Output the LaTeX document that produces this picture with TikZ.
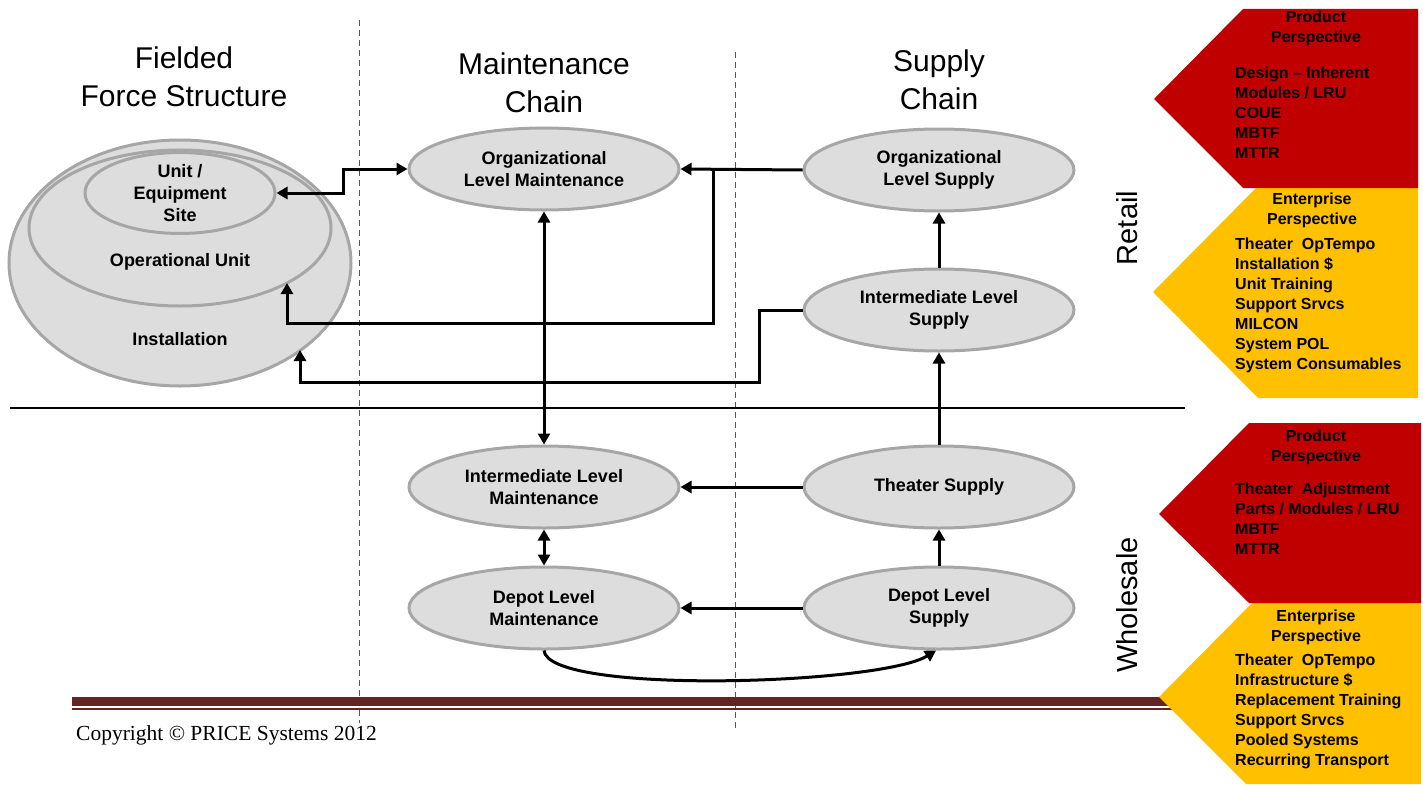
\documentclass[tikz,border=0pt]{standalone}
\usepackage{fontspec}
\setmainfont{Liberation Sans}
\newfontfamily\serifcr{Liberation Serif}
\usetikzlibrary{arrows.meta,shapes.geometric,calc}
\definecolor{ellfill}{HTML}{DDDDDD}
\definecolor{elldraw}{HTML}{A6A6A6}
\definecolor{prodred}{HTML}{C00000}
\definecolor{entyel}{HTML}{FFC000}
\definecolor{bandcol}{HTML}{632523}
\definecolor{dashcol}{HTML}{555555}
\begin{document}
\begin{tikzpicture}[x=1pt,y=-1pt,
  ell/.style={ellipse, draw=elldraw, fill=ellfill, line width=3pt,
    minimum width=270pt, minimum height=82pt, inner sep=0pt,
    font=\fontsize{18}{22}\selectfont\bfseries, align=center},
  lbl/.style={font=\fontsize{18}{22}\selectfont\bfseries, inner sep=0pt},
  title/.style={font=\fontsize{30}{38}\selectfont, align=center, inner sep=0pt},
  side/.style={font=\fontsize{29}{34}\selectfont, rotate=90, inner sep=0pt},
  phead/.style={font=\fontsize{16}{20}\selectfont\bfseries, align=center, inner sep=0pt},
  plist/.style={font=\fontsize{16}{20}\selectfont\bfseries, align=left, anchor=west, inner sep=0pt},
  conn/.style={line width=3pt, -{Triangle[length=11pt,width=12pt]}},
  conn2/.style={line width=3pt, {Triangle[length=11pt,width=12pt]}-{Triangle[length=11pt,width=12pt]}},
  divider/.style={draw=dashcol, line width=1pt, dash pattern=on 6pt off 4pt}
]
\useasboundingbox (0,0) rectangle (1423,784);

% dividers
\draw[divider] (359,20) -- (359,723);
\draw[divider] (735,52) -- (735,730);
\draw[line width=1.5pt] (10,408) -- (1185,408);

% bottom band
\fill[bandcol] (72,697) rectangle (1175,706);
\fill[bandcol] (72,708) rectangle (1175,710);
\node[anchor=west, inner sep=0pt, font=\serifcr\fontsize{21.5}{24}\selectfont] (copy) at (76,735) {Copyright © PRICE Systems 2012};

% titles
\node[title] (tfield) at (184,77) {Fielded\\Force Structure};
\node[title] (tmaint) at (544,83) {Maintenance\\Chain};
\node[title] (tsupp) at (939,80) {Supply\\Chain};

% side labels
\node[side] (retail) at (1127,228) {Retail};
\node[side] (wholesale) at (1127,605) {Wholesale};

% nested ellipses
\node[ell, minimum width=342pt, minimum height=246pt] (inst) at (180,263) {};
\node[ell, minimum width=302pt, minimum height=156pt] (opu) at (180,228) {};
\node[ell, minimum width=190pt, minimum height=80pt] (ues) at (180,193) {Unit /\\Equipment\\Site};
\node[lbl] (opulbl) at (180,262) {Operational Unit};
\node[lbl] (instlbl) at (180,339) {Installation};
\coordinate (opuin) at (287,283);
\coordinate (instin) at (300,350);

% chain ellipses
\node[ell] (olm) at (544,169) {Organizational\\Level Maintenance};
\node[ell] (ilm) at (544,487) {Intermediate Level\\Maintenance};
\node[ell] (dlm) at (544,608) {Depot Level\\Maintenance};
\node[ell] (ols) at (939,170) {Organizational\\Level Supply};
\node[ell] (ils) at (939,310) {Intermediate Level\\Supply};
\node[ell] (ts) at (939,487) {Theater Supply};
\node[ell] (dls) at (939,608) {Depot Level\\Supply};

% connectors
\draw[conn2] (ues.east) -- ++(67,0) |- (olm.west);
\draw[conn] (ols.west) -- (olm.east);
\coordinate (br1) at (713,170);
\draw[conn] (br1) -- ++(0,153) -| (opuin);
\draw[conn] (ils.west) -| ++(-43,72) -| (instin);
\draw[conn2] (olm.south) -- (ilm.north);
\draw[conn2] (ilm.south) -- (dlm.north);
\draw[conn] (ts.west) -- (ilm.east);
\draw[conn] (dls.west) -- (dlm.east);
\draw[conn] (dls.north) -- (ts.south);
\draw[conn] (ts.north) -- (ils.south);
\draw[conn] (ils.north) -- (ols.south);
\draw[conn] (dlm.south) .. controls (548,695) and (880,685) .. (dls.266);

% perspective panels
\fill[entyel] (1153,292) -- (1258,186) -- (1418,186) -- (1418,398) -- (1258,398) -- cycle;
\fill[prodred] (1154,99) -- (1243,9) -- (1418,9) -- (1418,188) -- (1243,188) -- cycle;
\fill[entyel] (1159,697) -- (1255,600) -- (1421,600) -- (1421,784) -- (1246,784) -- cycle;
\fill[prodred] (1159,514) -- (1249,423) -- (1421,423) -- (1421,603) -- (1249,603) -- cycle;

\node[phead] (h1) at (1316,28) {Product\\Perspective};
\node[plist] (l1) at (1235,113) {Design – Inherent\\Modules / LRU\\COUE\\MBTF\\MTTR};
\node[phead] (h2) at (1312,210) {Enterprise\\Perspective};
\node[plist] (l2) at (1235,305) {Theater\ \ OpTempo\\Installation \$\\Unit Training\\Support Srvcs\\MILCON\\System POL\\System Consumables};
\node[phead] (h3) at (1316,447) {Product\\Perspective};
\node[plist] (l3) at (1235,519) {Theater\ \ Adjustment\\Parts / Modules\ / LRU\\MBTF\\MTTR};
\node[phead] (h4) at (1316,627) {Enterprise\\Perspective};
\node[plist] (l4) at (1235,711) {Theater\ \ OpTempo\\Infrastructure\ \$\\Replacement\ Training\\Support Srvcs\\Pooled Systems\\Recurring Transport};
\end{tikzpicture}
\end{document}
